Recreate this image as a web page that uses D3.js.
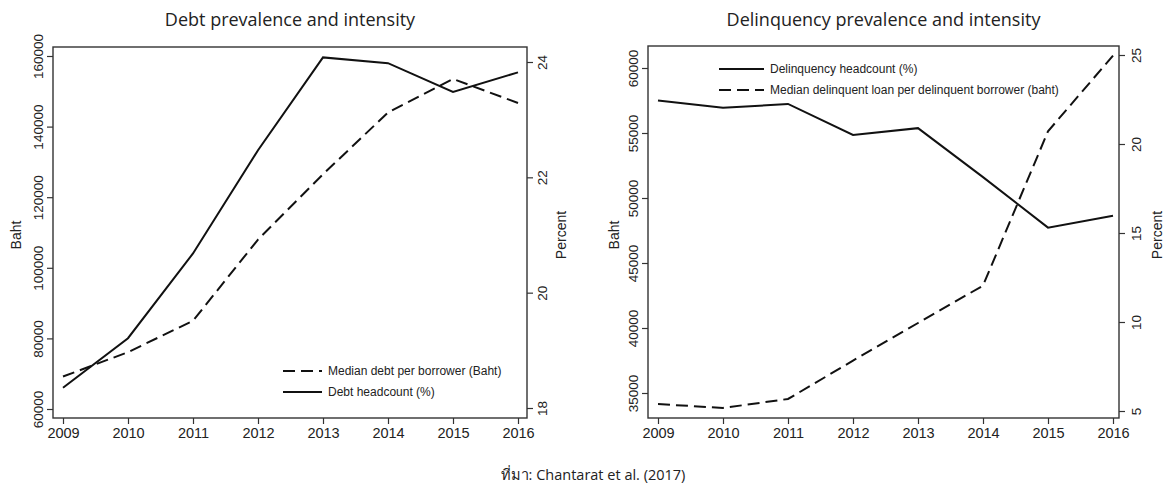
<!DOCTYPE html>
<html>
<head>
<meta charset="utf-8">
<script src="https://cdn.jsdelivr.net/npm/d3@7"></script>
<style>
  body { margin: 0; background: #fff; }
  svg { display: block; }
  .tick text { font-family: "Liberation Sans", Arial, sans-serif; fill: #222; }
</style>
</head>
<body>
<svg id="chart" width="1166" height="490"></svg>
<script>
// data
var years = [2009, 2010, 2011, 2012, 2013, 2014, 2015, 2016];

// left panel
var debtMedianBaht = [69200, 76100, 85000, 108000, 126500, 144000, 153500, 146700];
var debtHeadcountPct = [18.35, 19.21, 20.68, 22.47, 24.08, 23.98, 23.48, 23.82];

// right panel
var delinqHeadcountPct = [22.44, 22.03, 22.25, 20.51, 20.89, 18.14, 15.30, 15.97];
var delinqMedianBaht = [34150, 33850, 34540, 37490, 40385, 43260, 55130, 60950];

// tick labels
var bahtTicksLeft = [60000, 80000, 100000, 120000, 140000, 160000];
var pctTicksLeft = [18, 20, 22, 24];
var bahtTicksRight = [35000, 40000, 45000, 50000, 55000, 60000];
var pctTicksRight = [5, 10, 15, 20, 25];

var svg = d3.select("#chart");

function drawPanel(p) {
  var x = d3.scaleLinear().domain([2009, 2016]).range(p.xRange);
  var yL = d3.scaleLinear().domain(p.bahtDomain).range(p.bahtRange);
  var yR = d3.scaleLinear().domain(p.pctDomain).range(p.pctRange);

  // title
  svg.append("text")
    .attr("x", (p.left + p.right) / 2)
    .attr("y", 26)
    .attr("text-anchor", "middle")
    .style("font-family", "Open Sans, sans-serif")
    .style("font-size", "18px")
    .style("fill", "#222")
    .text(p.title);

  // x axis
  var gx = svg.append("g")
    .attr("transform", "translate(0," + p.bottom + ")")
    .call(d3.axisBottom(x).tickValues(years).tickFormat(d3.format("d")).tickSize(6).tickPadding(4));
  gx.select(".domain").remove();
  gx.selectAll("text").style("font-size", "14.5px");

  // left axis
  var gl = svg.append("g")
    .attr("transform", "translate(" + p.left + ",0)")
    .call(d3.axisLeft(yL).tickValues(p.bahtTicks).tickFormat(d3.format("d")).tickSize(6));
  gl.select(".domain").remove();
  gl.selectAll("text")
    .attr("transform", "rotate(-90)")
    .attr("x", 0).attr("y", -10).attr("dy", 0)
    .style("text-anchor", "middle")
    .style("font-size", "13.5px");

  // right axis
  var gr = svg.append("g")
    .attr("transform", "translate(" + p.right + ",0)")
    .call(d3.axisRight(yR).tickValues(p.pctTicks).tickFormat(d3.format("d")).tickSize(6));
  gr.select(".domain").remove();
  gr.selectAll("text")
    .attr("transform", "rotate(-90)")
    .attr("x", 0).attr("y", p.rightLabelOffset).attr("dy", 0)
    .style("text-anchor", "middle")
    .style("font-size", "13.5px");

  svg.selectAll(".tick line").attr("stroke", "#333").attr("stroke-width", 1.2);

  // frame
  svg.append("rect")
    .attr("x", p.left).attr("y", p.top)
    .attr("width", p.right - p.left).attr("height", p.bottom - p.top)
    .attr("fill", "none").attr("stroke", "#333").attr("stroke-width", 1.4);

  // axis titles
  svg.append("text")
    .attr("transform", "translate(" + p.bahtTitleX + ",235)rotate(-90)")
    .attr("text-anchor", "middle")
    .style("font-family", "Liberation Sans, Arial, sans-serif")
    .style("font-size", "14px")
    .style("fill", "#222")
    .text("Baht");
  svg.append("text")
    .attr("transform", "translate(" + p.pctTitleX + ",235)rotate(-90)")
    .attr("text-anchor", "middle")
    .style("font-family", "Liberation Sans, Arial, sans-serif")
    .style("font-size", "14px")
    .style("fill", "#222")
    .text("Percent");

  // lines
  var lineL = d3.line().x(function (d, i) { return x(years[i]); }).y(function (d) { return yL(d); });
  var lineR = d3.line().x(function (d, i) { return x(years[i]); }).y(function (d) { return yR(d); });

  svg.append("path")
    .datum(p.bahtSeries)
    .attr("d", lineL)
    .attr("fill", "none")
    .attr("stroke", "#111")
    .attr("stroke-width", 2)
    .attr("stroke-dasharray", "12,6");

  svg.append("path")
    .datum(p.pctSeries)
    .attr("d", lineR)
    .attr("fill", "none")
    .attr("stroke", "#111")
    .attr("stroke-width", 2);

  // legend
  p.legend.forEach(function (item, i) {
    var ly = p.legendY + i * 21;
    svg.append("line")
      .attr("x1", p.legendX).attr("x2", p.legendX + p.legendLen)
      .attr("y1", ly).attr("y2", ly)
      .attr("stroke", "#111").attr("stroke-width", 1.8)
      .attr("stroke-dasharray", item.dashed ? "12,6" : null);
    svg.append("text")
      .attr("x", p.legendX + p.legendLen + 6)
      .attr("y", ly + 4)
      .style("font-family", "Liberation Sans, Arial, sans-serif")
      .style("font-size", "12px")
      .style("fill", "#222")
      .text(item.label);
  });
}

drawPanel({
  title: "Debt prevalence and intensity",
  left: 53, right: 527, top: 47, bottom: 418,
  xRange: [63, 518],
  bahtDomain: [60000, 160000], bahtRange: [409, 56],
  pctDomain: [18, 24], pctRange: [408, 62],
  bahtTicks: bahtTicksLeft, pctTicks: pctTicksLeft,
  bahtSeries: debtMedianBaht, pctSeries: debtHeadcountPct,
  rightLabelOffset: 20,
  bahtTitleX: 21, pctTitleX: 566,
  legendX: 283, legendLen: 39, legendY: 371,
  legend: [
    { label: "Median debt per borrower (Baht)", dashed: true },
    { label: "Debt headcount (%)", dashed: false }
  ]
});

drawPanel({
  title: "Delinquency prevalence and intensity",
  left: 648, right: 1119, top: 46, bottom: 418,
  xRange: [658, 1113],
  bahtDomain: [35000, 60000], bahtRange: [393, 68],
  pctDomain: [5, 25], pctRange: [411, 55],
  bahtTicks: bahtTicksRight, pctTicks: pctTicksRight,
  bahtSeries: delinqMedianBaht, pctSeries: delinqHeadcountPct,
  rightLabelOffset: 22,
  bahtTitleX: 619, pctTitleX: 1162,
  legendX: 719, legendLen: 45, legendY: 69,
  legend: [
    { label: "Delinquency headcount (%)", dashed: false },
    { label: "Median delinquent loan per delinquent borrower (baht)", dashed: true }
  ]
});

// source note
svg.append("text")
  .attr("x", 593)
  .attr("y", 480)
  .attr("text-anchor", "middle")
  .style("font-family", "Open Sans, Noto Sans, sans-serif")
  .style("font-size", "14.5px")
  .style("fill", "#222")
  .text("ที่มา: Chantarat et al. (2017)");
</script>
</body>
</html>
